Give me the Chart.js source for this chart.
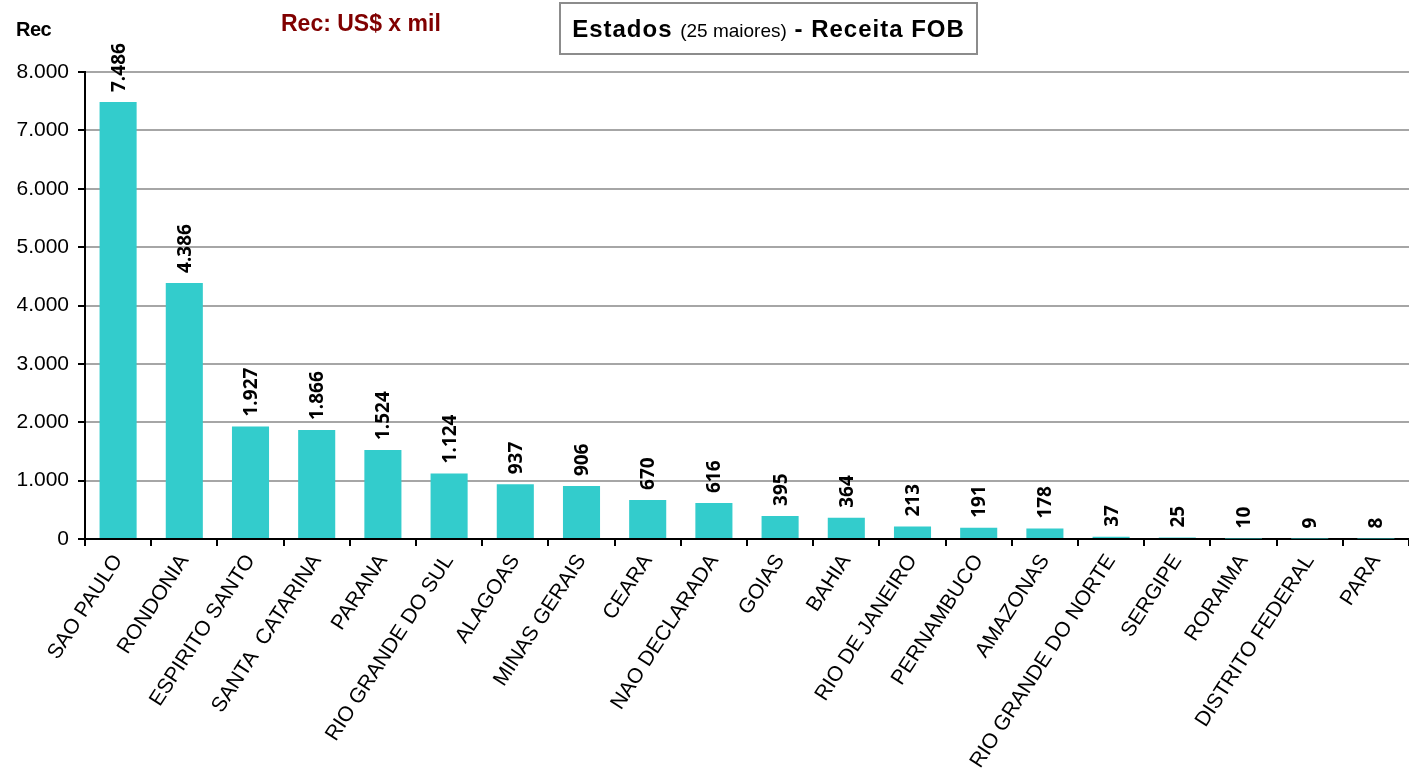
<!DOCTYPE html>
<html>
<head>
<meta charset="utf-8">
<script src="https://cdn.jsdelivr.net/npm/chart.js@4/dist/chart.umd.min.js"></script>
<style>
  body { margin: 0; background: #fff; font-family: "Liberation Sans", Arial, sans-serif; }
  #wrap { position: relative; width: 1409px; height: 774px; }
  #rec { position: absolute; left: 16px; top: 18px; font-weight: bold; font-size: 20px; letter-spacing: -0.5px; color: #000; }
  #unit { position: absolute; left: 281px; top: 10px; font-weight: bold; font-size: 23px; color: #800000; }
  #title { position: absolute; left: 559px; top: 2px; width: 415px; height: 49px; border: 2px solid #8c8c8c;
           text-align: center; line-height: 49px; font-size: 24px; font-weight: bold; letter-spacing: 1px; color: #000; white-space: nowrap; }
  #title span { font-weight: normal; font-size: 19px; letter-spacing: 0; }
</style>
</head>
<body>
<div id="wrap">
  <canvas id="myChart" width="1409" height="774"></canvas>
  <div id="rec">Rec</div>
  <div id="unit">Rec: US$ x mil</div>
  <div id="title">Estados <span>(25 maiores)</span> - Receita FOB</div>
</div>
<script>
// estados e receita (US$ x mil)
var estados = ['SAO PAULO', 'RONDONIA', 'ESPIRITO SANTO', 'SANTA  CATARINA', 'PARANA', 'RIO GRANDE DO SUL',
  'ALAGOAS', 'MINAS GERAIS', 'CEARA', 'NAO DECLARADA', 'GOIAS', 'BAHIA', 'RIO DE JANEIRO', 'PERNAMBUCO',
  'AMAZONAS', 'RIO GRANDE DO NORTE', 'SERGIPE', 'RORAIMA', 'DISTRITO FEDERAL', 'PARA'];
var receita = [7486, 4386, 1927, 1866, 1524, 1124, 937, 906, 670, 616, 395, 364, 213, 191, 178, 37, 25, 10, 9, 8];
var yTicks = [0, 1000, 2000, 3000, 4000, 5000, 6000, 7000, 8000];

function fmt(v) {
  return String(v).replace(/\B(?=(\d{3})+(?!\d))/g, '.');
}

// rotulos verticais em cima das barras
var rotulos = {
  id: 'rotulos',
  afterDatasetsDraw: function (chart) {
    var ctx = chart.ctx;
    var meta = chart.getDatasetMeta(0);
    ctx.save();
    ctx.font = 'bold 19px "Open Sans"';
    ctx.fillStyle = '#000';
    ctx.textAlign = 'left';
    ctx.textBaseline = 'middle';
    meta.data.forEach(function (bar, i) {
      ctx.save();
      ctx.translate(bar.x + 1, bar.y - 10);
      ctx.rotate(-Math.PI / 2);
      ctx.fillText(fmt(receita[i]), 0, 0);
      ctx.restore();
    });
    ctx.restore();
  }
};

var ctx = document.getElementById('myChart').getContext('2d');
var myChart = new Chart(ctx, {
  type: 'bar',
  data: {
    labels: estados,
    datasets: [{
      label: 'Receita',
      data: receita,
      backgroundColor: '#33cccc',
      barPercentage: 0.56,
      categoryPercentage: 1
    }]
  },
  options: {
    responsive: false,
    animation: false,
    layout: { padding: { top: 72, right: 0, left: 0, bottom: 0 } },
    plugins: { legend: { display: false }, tooltip: { enabled: false } },
    scales: {
      x: {
        afterFit: function (s) { s.height = 774 - 72 - 467; },
        offset: true,
        grid: { offset: true, drawOnChartArea: false, tickColor: '#000', tickLength: 7, lineWidth: 2 },
        border: { color: '#000', width: 2 },
        ticks: {
          autoSkip: false, minRotation: 57, maxRotation: 57, padding: 4,
          color: '#000', font: { family: '"Liberation Sans", Arial', size: 21 }
        }
      },
      y: {
        min: 0, max: 8000,
        afterFit: function (s) { s.width = 85; },
        afterBuildTicks: function (s) { s.ticks = yTicks.map(function (v) { return { value: v }; }); },
        grid: { color: '#a6a6a6', lineWidth: 2, tickColor: '#000', tickLength: 7 },
        border: { color: '#000', width: 2 },
        ticks: {
          color: '#000', padding: 9,
          font: { family: '"Liberation Sans", Arial', size: 21 },
          callback: function (v) { return fmt(v); }
        }
      }
    }
  },
  plugins: [rotulos]
});
</script>
</body>
</html>
